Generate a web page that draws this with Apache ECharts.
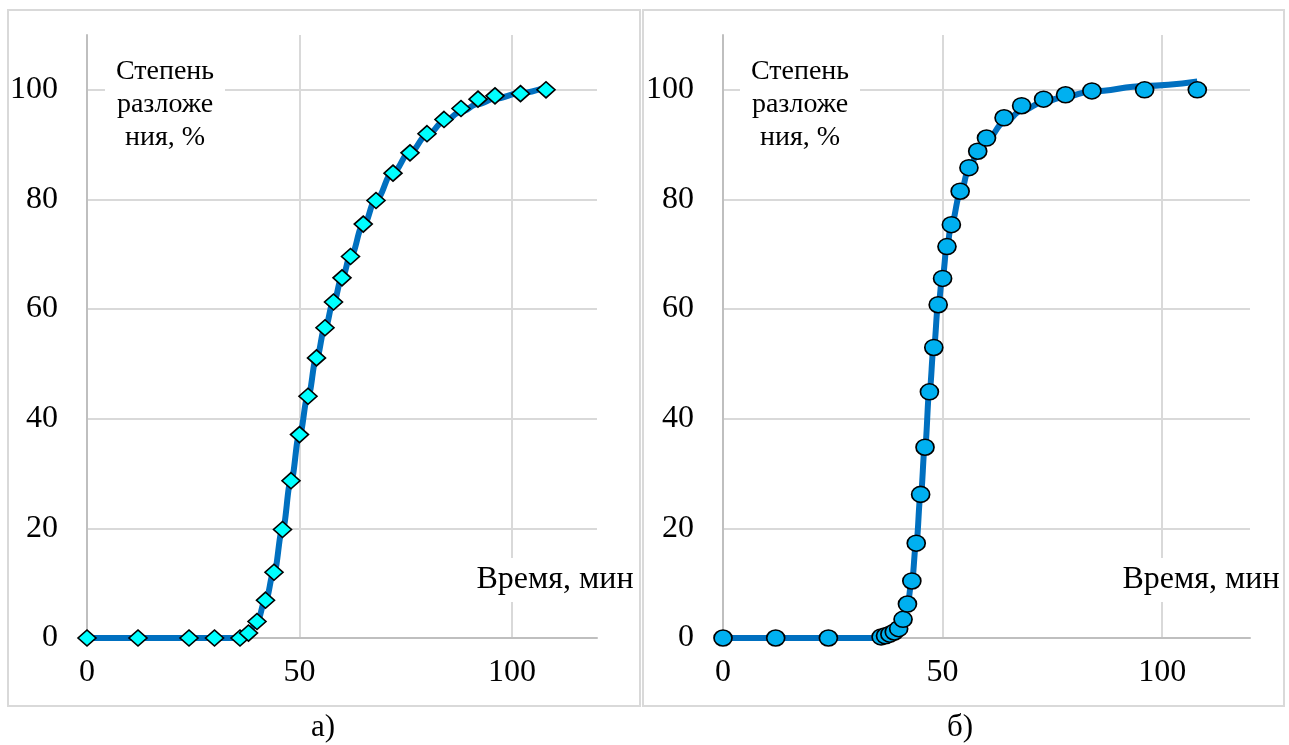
<!DOCTYPE html>
<html>
<head>
<meta charset="utf-8">
<script src="https://cdn.jsdelivr.net/npm/echarts@6/dist/echarts.min.js"></script>
<style>
  html, body { margin: 0; padding: 0; background: #fff; }
  #myChart { width: 1289px; height: 745px; }
</style>
</head>
<body>
<div id="myChart"></div>
<script>
// а) опытные точки (ромбы)
var timeA = [0, 12, 24, 30, 36, 38, 40, 42, 44, 46, 48, 50, 52, 54, 56, 58, 60, 62, 65, 68, 72, 76, 80, 84, 88, 92, 96, 102, 108]
var degreeA = [0, 0, 0, 0, 0, 0.9, 3.0, 6.9, 12.0, 19.8, 28.7, 37.1, 44.1, 51.1, 56.6, 61.3, 65.7, 69.6, 75.5, 79.8, 84.8, 88.5, 92.0, 94.6, 96.6, 98.3, 98.9, 99.3, 100]
// а) сглаженная кривая
var fitTimeA = [0, 36, 38, 40, 42, 44, 46, 48, 50, 52, 54, 56, 58, 60, 62, 65, 68, 72, 76, 80, 84, 88, 92, 96, 102, 108]
var fitDegreeA = [0, 0, 1.0, 3.0, 6.9, 12.0, 19.8, 28.7, 37.1, 44.1, 51.1, 56.6, 61.3, 65.7, 69.6, 75.3, 80.0, 85.0, 88.6, 91.7, 94.2, 96.0, 97.4, 98.4, 99.4, 100.5]

// б) опытные точки (кружки)
var timeB = [0, 12, 24, 36, 37, 38, 39, 40, 41, 42, 43, 44, 45, 46, 47, 48, 49, 50, 51, 52, 54, 56, 58, 60, 64, 68, 73, 78, 84, 96, 108]
var degreeB = [0, 0, 0, 0.2, 0.4, 0.7, 1.1, 1.7, 3.4, 6.2, 10.4, 17.3, 26.2, 34.8, 44.9, 53.0, 60.8, 65.6, 71.4, 75.4, 81.5, 85.8, 88.8, 91.2, 94.9, 97.1, 98.3, 99.1, 99.8, 100, 100]
// б) сглаженная кривая
var fitTimeB = [0, 24, 36, 38, 40, 41, 42, 43, 44, 45, 46, 47, 48, 49, 50, 51, 52, 54, 56, 58, 60, 64, 68, 73, 78, 84, 96, 108]
var fitDegreeB = [0, 0, 0, 0.5, 1.8, 3.5, 6.2, 10.4, 17.3, 26.0, 35.0, 45.0, 53.0, 60.7, 66.0, 71.5, 75.5, 81.0, 85.5, 88.5, 90.8, 94.0, 96.2, 97.8, 98.8, 99.7, 100.7, 101.5]

var yTicks = [0, 20, 40, 60, 80, 100]
var xTicks = [0, 50, 100]

var font = "'Liberation Serif', 'Times New Roman', serif"

function pairs (xs, ys) {
  return xs.map(function (x, i) { return [x, ys[i]] })
}

function xAxisCfg (idx) {
  return {
    type: 'value', gridIndex: idx, min: 0, max: 120, interval: 50,
    axisLine: { show: true, onZero: false, lineStyle: { color: '#bfbfbf', width: 2 } },
    axisTick: { show: false },
    axisLabel: {
      margin: 19, color: '#000', fontSize: 32, fontFamily: font, showMaxLabel: false,
      formatter: function (v) { return xTicks.indexOf(v) >= 0 ? v : '' }
    },
    splitLine: { show: true, showMinLine: false, showMaxLine: false, lineStyle: { color: '#d9d9d9', width: 2 } }
  }
}

function yAxisCfg (idx) {
  return {
    type: 'value', gridIndex: idx, min: 0, max: 110, interval: 20,
    axisLine: { show: true, lineStyle: { color: '#bfbfbf', width: 2 } },
    axisTick: { show: false },
    axisLabel: {
      margin: 29, color: '#000', fontSize: 32, fontFamily: font, showMaxLabel: false,
      formatter: function (v) { return yTicks.indexOf(v) >= 0 ? v : '' }
    },
    splitLine: { show: true, showMinLine: false, showMaxLine: false, lineStyle: { color: '#d9d9d9', width: 2 } }
  }
}

function fitLine (idx, data) {
  return {
    type: 'line', xAxisIndex: idx, yAxisIndex: idx, data: data,
    showSymbol: false, smooth: 0.4, smoothMonotone: 'x', z: 2,
    lineStyle: { color: '#0070c0', width: 6 }
  }
}

function points (idx, data, symbol, color) {
  return {
    type: 'scatter', xAxisIndex: idx, yAxisIndex: idx, data: data,
    symbol: symbol, symbolSize: [18, 16], z: 3,
    itemStyle: { color: color, borderColor: '#000', borderWidth: 1.6, opacity: 1 }
  }
}

// подписи осей (на белом фоне, как в оригинале)
function axisNames (yCx, tCx) {
  return [
    { type: 'rect', shape: { x: yCx - 60, y: 48, width: 120, height: 110 }, style: { fill: '#fff' }, z: 1 },
    { type: 'text', x: yCx, y: 55, z: 2,
      style: { text: 'Степень\nразложе\nния, %', font: '28px ' + font, fill: '#000', align: 'center', verticalAlign: 'top', lineHeight: 33 } },
    { type: 'rect', shape: { x: tCx - 82, y: 558, width: 164, height: 44 }, style: { fill: '#fff' }, z: 1 },
    { type: 'text', x: tCx, y: 580, z: 2,
      style: { text: 'Время, мин', font: '32px ' + font, fill: '#000', align: 'center', verticalAlign: 'middle' } }
  ]
}

var myChart = echarts.init(document.getElementById('myChart'))
myChart.setOption({
  backgroundColor: '#fff',
  animation: false,
  grid: [
    { left: 87, top: 35, width: 510, height: 603 },
    { left: 723, top: 35, width: 527, height: 603 }
  ],
  xAxis: [xAxisCfg(0), xAxisCfg(1)],
  yAxis: [yAxisCfg(0), yAxisCfg(1)],
  graphic: [
    { type: 'rect', shape: { x: 8, y: 10, width: 632, height: 696 }, style: { fill: 'none', stroke: '#d9d9d9', lineWidth: 2 }, z: 5 },
    { type: 'rect', shape: { x: 643, y: 10, width: 641, height: 696 }, style: { fill: 'none', stroke: '#d9d9d9', lineWidth: 2 }, z: 5 },
    { type: 'text', x: 323, y: 728, style: { text: 'а)', font: '31px ' + font, fill: '#000', align: 'center', verticalAlign: 'middle' } },
    { type: 'text', x: 960, y: 728, style: { text: 'б)', font: '31px ' + font, fill: '#000', align: 'center', verticalAlign: 'middle' } }
  ].concat(axisNames(165, 555), axisNames(800, 1201)),
  series: [
    fitLine(0, pairs(fitTimeA, fitDegreeA)),
    points(0, pairs(timeA, degreeA), 'diamond', '#00ffff'),
    fitLine(1, pairs(fitTimeB, fitDegreeB)),
    points(1, pairs(timeB, degreeB), 'circle', '#00b0f0')
  ]
})
</script>
</body>
</html>
